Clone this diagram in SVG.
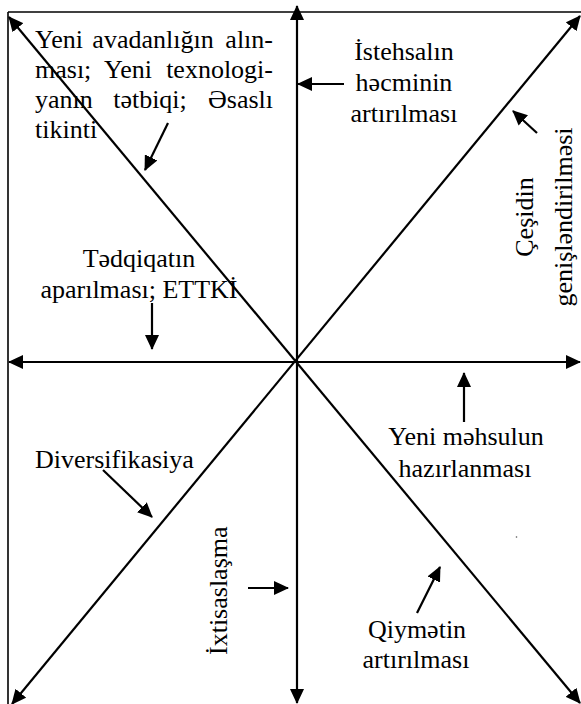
<svg xmlns="http://www.w3.org/2000/svg" width="581" height="704" viewBox="0 0 581 704">
  <style>
    .frame { stroke: #000; stroke-width: 1.6; fill: none; }
    .axis { stroke: #000; stroke-width: 2.2; fill: none; marker-start: url(#head); marker-end: url(#head); }
    .ptr { stroke: #000; stroke-width: 2.2; fill: none; marker-end: url(#head); }
    .c { text-anchor: middle; }
    .e { text-anchor: end; }
  </style>
  <defs>
    <marker id="head" markerUnits="userSpaceOnUse" markerWidth="15" markerHeight="14" refX="14" refY="7" orient="auto-start-reverse">
      <path d="M0,0 L15,7 L0,14 Z" fill="#000"/>
    </marker>
  </defs>

  <!-- outer frame (top and left edges) -->
  <g id="frame">
    <line class="frame" x1="8" y1="12" x2="581" y2="12"/>
    <line class="frame" x1="8" y1="12" x2="8" y2="704"/>
  </g>

  <!-- double-headed axes and pointer arrows -->
  <g id="connectors">
    <line class="axis" x1="297" y1="6" x2="297" y2="703"/>
    <line class="axis" x1="9" y1="362" x2="580" y2="362"/>
    <line class="axis" x1="9" y1="17" x2="580" y2="703"/>
    <line class="axis" x1="12" y1="704" x2="580" y2="16"/>

    <line class="ptr" x1="168" y1="123" x2="145" y2="170"/>
    <line class="ptr" x1="344" y1="84" x2="298" y2="84"/>
    <line class="ptr" x1="537" y1="133" x2="513" y2="111"/>
    <line class="ptr" x1="152" y1="303" x2="152" y2="349"/>
    <line class="ptr" x1="464" y1="422" x2="464" y2="373"/>
    <line class="ptr" x1="103" y1="470" x2="152" y2="517"/>
    <line class="ptr" x1="248" y1="588" x2="288" y2="588"/>
    <line class="ptr" x1="417" y1="613" x2="440" y2="567"/>
  </g>

  <g font-family="Liberation Serif, DejaVu Serif, Noto Serif, serif" font-size="26" fill="#000">
    <!-- justified paragraph: first and last words pinned to the margins -->
    <g id="node-yeni-avadanliq">
      <text y="48"><tspan x="35">Yeni</tspan><tspan x="153" class="c">avadanlığın</tspan><tspan x="273" class="e">alın-</tspan></text>
      <text y="78"><tspan x="35">ması;</tspan><tspan x="128" class="c">Yeni</tspan><tspan x="273" class="e">texnologi-</tspan></text>
      <text y="108"><tspan x="35">yanın</tspan><tspan x="150" class="c">tətbiqi;</tspan><tspan x="273" class="e">Əsaslı</tspan></text>
      <text x="35" y="138">tikinti</text>
    </g>

    <g id="node-istehsal">
      <text class="c" x="404" y="60">İstehsalın</text>
      <text class="c" x="404" y="91">həcminin</text>
      <text class="c" x="404" y="122">artırılması</text>
    </g>

    <g id="node-cesid">
      <text class="c" transform="translate(533,217) rotate(-90)">Çeşidin</text>
      <text class="c" transform="translate(572,217) rotate(-90)">genişləndirilməsi</text>
    </g>

    <g id="node-tedqiqat">
      <text class="c" x="139" y="267">Tədqiqatın</text>
      <text class="c" x="139" y="298">aparılması; ETTKİ</text>
    </g>

    <g id="node-yeni-mehsul">
      <text class="c" x="466" y="445">Yeni məhsulun</text>
      <text class="c" x="465" y="477">hazırlanması</text>
    </g>

    <g id="node-diversifikasiya">
      <text x="35" y="468">Diversifikasiya</text>
    </g>

    <g id="node-ixtisaslasma">
      <text transform="translate(227,655) rotate(-90)">İxtisaslaşma</text>
    </g>

    <g id="node-qiymet">
      <text class="c" x="417" y="638">Qiymətin</text>
      <text class="c" x="416" y="668">artırılması</text>
    </g>
  </g>

  <circle cx="516.5" cy="537" r="0.8" fill="#555"/>
</svg>
